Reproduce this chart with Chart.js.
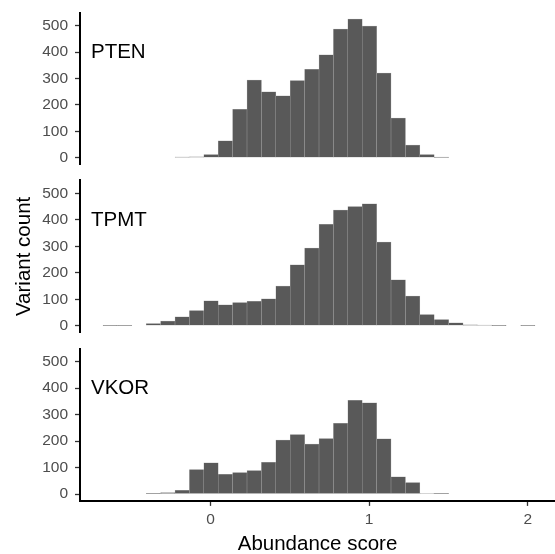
<!DOCTYPE html>
<html>
<head>
<meta charset="utf-8">
<script src="https://cdn.jsdelivr.net/npm/chart.js@4.4.0/dist/chart.umd.min.js"></script>
<style>
  html, body { margin: 0; padding: 0; background: #fff; }
  #wrap { position: relative; width: 555px; height: 554px; overflow: hidden; }
  canvas { position: absolute; left: 0; }
</style>
</head>
<body>
<div id="wrap">
  <canvas id="c1" width="555" height="187" style="top:-5px"></canvas>
  <canvas id="c2" width="555" height="187" style="top:163px"></canvas>
  <canvas id="c3" width="555" height="223" style="top:331px"></canvas>
</div>
<script>
// ---- data ----
const panels = ['PTEN', 'TPMT', 'VKOR'];
const binCenters = [-0.6324, -0.5416, -0.4508, -0.3600, -0.2692, -0.1784, -0.0876, 0.0032,
  0.0940, 0.1848, 0.2756, 0.3664, 0.4572, 0.5480, 0.6388, 0.7296, 0.8204, 0.9112,
  1.0020, 1.0928, 1.1836, 1.2744, 1.3652, 1.4560, 1.5468, 1.6376, 1.7284, 1.8192,
  1.9100, 2.0008];
const ptenCounts = [0, 0, 0, 0, 0, 2, 3, 12, 64, 183, 294, 249, 234, 292, 335, 390, 487, 525,
  499, 320, 150, 48, 12, 1, 0, 0, 0, 0, 0, 0];
const tpmtCounts = [1, 1, 0, 8, 18, 34, 57, 94, 79, 87, 92, 102, 150, 230, 293, 383, 437, 450,
  461, 316, 173, 112, 42, 23, 11, 3, 2, 1, 0, 1];
const vkorCounts = [0, 0, 0, 1, 5, 14, 92, 118, 74, 81, 89, 120, 204, 225, 189, 210, 267, 354,
  345, 209, 65, 43, 2, 1, 0, 0, 0, 0, 0, 0];
const xTicks = [0, 1, 2];
const yTicks = [0, 100, 200, 300, 400, 500];
const xTitle = 'Abundance score';
const yTitle = 'Variant count';

const FONT = "'Liberation Sans', Arial, Helvetica, sans-serif";
const X_MIN = -0.823, X_MAX = 2.172;
const Y_MIN = -26, Y_MAX = 550;

const panelLabel = {
  id: 'panelLabel',
  afterDraw(chart, args, opts) {
    const ctx = chart.ctx;
    const ca = chart.chartArea;
    ctx.save();
    ctx.font = '20.5px ' + FONT;
    ctx.fillStyle = '#000';
    ctx.textBaseline = 'middle';
    ctx.textAlign = 'left';
    ctx.fillText(opts.text, ca.left + 11, chart.scales.y.getPixelForValue(400));
    ctx.restore();
  }
};

function makeChart(id, label, counts, showX, showYTitle, padding) {
  const data = binCenters.map((c, i) => ({ x: c, y: counts[i] }));
  return new Chart(document.getElementById(id), {
    type: 'bar',
    data: {
      datasets: [{
        data: data,
        backgroundColor: '#595959',
        borderColor: '#a3a3a3',
        borderWidth: 0.5,
        borderSkipped: false,
        categoryPercentage: 1,
        barPercentage: 1
      }]
    },
    options: {
      responsive: false,
      animation: false,
      devicePixelRatio: 1,
      layout: { padding: padding },
      plugins: {
        legend: { display: false },
        tooltip: { enabled: false },
        panelLabel: { text: label }
      },
      scales: {
        x: {
          type: 'linear',
          display: showX,
          offset: false,
          min: X_MIN,
          max: X_MAX,
          afterBuildTicks: s => { s.ticks = xTicks.map(v => ({ value: v })); },
          afterFit: s => { if (showX) s.height = 53.1; },
          grid: { display: true, offset: false, drawOnChartArea: false, drawTicks: true, tickLength: 5, tickColor: '#333', tickWidth: 1.3 },
          border: { display: true, color: '#000', width: 2 },
          ticks: { color: '#4d4d4d', font: { family: FONT, size: 15.5 }, padding: 5, maxRotation: 0 },
          title: { display: true, text: xTitle, color: '#000', font: { family: FONT, size: 20.5 }, padding: { top: 0, bottom: -2.5 } }
        },
        y: {
          type: 'linear',
          min: Y_MIN,
          max: Y_MAX,
          afterBuildTicks: s => { s.ticks = yTicks.map(v => ({ value: v })); },
          afterFit: s => { s.width = 80; },
          grid: { display: true, offset: false, drawOnChartArea: false, drawTicks: true, tickLength: 5, tickColor: '#333', tickWidth: 1.3 },
          border: { display: true, color: '#000', width: 2 },
          ticks: { color: '#4d4d4d', font: { family: FONT, size: 15.5 }, padding: 7 },
          title: { display: showYTitle, text: yTitle, color: '#000', font: { family: FONT, size: 20.5 }, padding: { top: 11.7, bottom: 0 } }
        }
      }
    },
    plugins: [panelLabel]
  });
}

makeChart('c1', panels[0], ptenCounts, false, false, { top: 17.5, bottom: 17.5, left: 0, right: 0 });
makeChart('c2', panels[1], tpmtCounts, false, true, { top: 17.2, bottom: 17.4, left: 0, right: 0 });
makeChart('c3', panels[2], vkorCounts, true, false, { top: 17.5, bottom: 0, left: 0, right: 0 });
</script>
</body>
</html>
